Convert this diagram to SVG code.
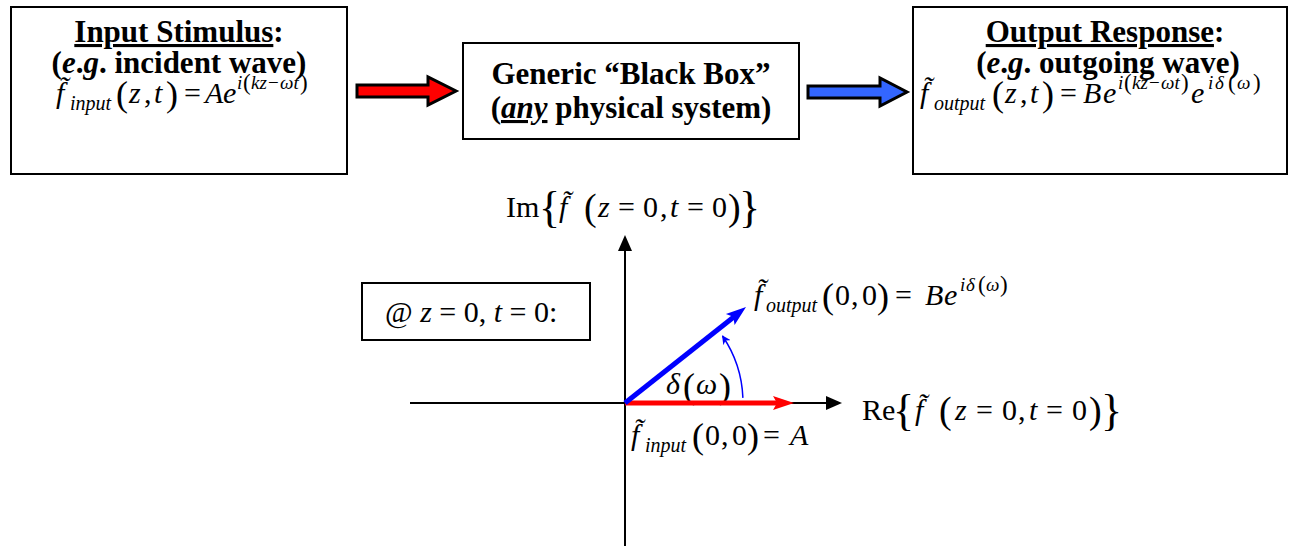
<svg xmlns="http://www.w3.org/2000/svg" width="1298" height="546" viewBox="0 0 1298 546">
<defs>
<marker id="arcHead" viewBox="0 0 10 10" refX="9" refY="5" markerWidth="9" markerHeight="9" markerUnits="userSpaceOnUse" orient="auto">
<path d="M0,0 L10,5 L0,10 L3,5 Z" fill="#0000FF"/>
</marker>
</defs>
<rect width="1298" height="546" fill="#fff"/>

<g id="input-box">
<rect x="11" y="7" width="336" height="167" fill="#fff" stroke="#000" stroke-width="2"/>
<text font-family="Liberation Serif" x="179" y="42" font-size="31" font-weight="bold" text-anchor="middle"><tspan text-decoration="underline">Input Stimulus</tspan>:</text>
<text font-family="Liberation Serif" x="179" y="73" font-size="31" font-weight="bold" text-anchor="middle">(<tspan font-style="italic">e</tspan>.<tspan font-style="italic">g</tspan>. incident wave)</text>
<text font-family="Liberation Serif" font-size="30"><tspan x="56" y="103" font-style="italic">f̃</tspan><tspan x="70" y="110" font-size="20" font-style="italic">input</tspan><tspan x="116" y="106" font-size="36">(</tspan><tspan x="129" y="103" font-style="italic">z</tspan><tspan x="144" y="103">,</tspan><tspan x="154" y="103" font-style="italic">t</tspan><tspan x="166" y="106" font-size="36">)</tspan><tspan x="184" y="103">=</tspan><tspan x="205" y="103" font-style="italic">A</tspan><tspan x="223" y="103" font-style="italic">e</tspan><tspan x="237" y="89" font-size="19" font-style="italic">i</tspan><tspan x="243" y="90" font-size="23">(</tspan><tspan x="251" y="89" font-size="19" font-style="italic">kz</tspan><tspan x="268" y="89" font-size="19">−</tspan><tspan x="280" y="89" font-size="19" font-style="italic">ωt</tspan><tspan x="300" y="90" font-size="23">)</tspan></text>
</g>

<g id="black-box">
<rect x="463" y="43" width="336" height="96" fill="#fff" stroke="#000" stroke-width="2"/>
<text font-family="Liberation Serif" x="631" y="84" font-size="31" font-weight="bold" text-anchor="middle">Generic “Black Box”</text>
<text font-family="Liberation Serif" x="631" y="118" font-size="31" font-weight="bold" text-anchor="middle">(<tspan font-style="italic" text-decoration="underline">any</tspan> physical system)</text>
</g>

<g id="output-box">
<rect x="913" y="7" width="374" height="167" fill="#fff" stroke="#000" stroke-width="2"/>
<text font-family="Liberation Serif" x="1105" y="42" font-size="31" font-weight="bold" text-anchor="middle"><tspan text-decoration="underline">Output Response</tspan>:</text>
<text font-family="Liberation Serif" x="1108" y="73" font-size="31" font-weight="bold" text-anchor="middle">(<tspan font-style="italic">e</tspan>.<tspan font-style="italic">g</tspan>. outgoing wave)</text>
<text font-family="Liberation Serif" font-size="30"><tspan x="920" y="103" font-style="italic">f̃</tspan><tspan x="934" y="110" font-size="20" font-style="italic">output</tspan><tspan x="992" y="106" font-size="36">(</tspan><tspan x="1005" y="103" font-style="italic">z</tspan><tspan x="1020" y="103">,</tspan><tspan x="1030" y="103" font-style="italic">t</tspan><tspan x="1042" y="106" font-size="36">)</tspan><tspan x="1060" y="103">=</tspan><tspan x="1083" y="103" font-style="italic">B</tspan><tspan x="1103" y="103" font-style="italic">e</tspan><tspan x="1118" y="89" font-size="19" font-style="italic">i</tspan><tspan x="1124" y="90" font-size="23">(</tspan><tspan x="1132" y="89" font-size="19" font-style="italic">kz</tspan><tspan x="1149" y="89" font-size="19">−</tspan><tspan x="1161" y="89" font-size="19" font-style="italic">ωt</tspan><tspan x="1181" y="90" font-size="23">)</tspan><tspan x="1191" y="103" font-style="italic">e</tspan><tspan x="1208" y="89" font-size="19" font-style="italic">i</tspan><tspan x="1215" y="89" font-size="19" font-style="italic">δ</tspan><tspan x="1228" y="90" font-size="23">(</tspan><tspan x="1237" y="89" font-size="19" font-style="italic">ω</tspan><tspan x="1253" y="90" font-size="23">)</tspan></text>
</g>

<g id="condition-box">
<rect x="362" y="283" width="228" height="57" fill="#fff" stroke="#000" stroke-width="2"/>
<text font-family="Liberation Serif" x="385" y="322" font-size="30">@ <tspan font-style="italic">z</tspan> = 0, <tspan font-style="italic">t</tspan> = 0:</text>
</g>

<g id="im-label">
<text font-family="Liberation Serif" font-size="30"><tspan x="506" y="217">Im</tspan><tspan x="539" y="222" font-size="44">{</tspan><tspan x="559" y="217" font-style="italic">f̃</tspan><tspan x="584" y="220" font-size="38">(</tspan><tspan x="598" y="217" font-style="italic">z</tspan><tspan x="618" y="217">=</tspan><tspan x="643" y="217">0</tspan><tspan x="660" y="217">,</tspan><tspan x="670" y="217" font-style="italic">t</tspan><tspan x="687" y="217">=</tspan><tspan x="712" y="217">0</tspan><tspan x="728" y="220" font-size="38">)</tspan><tspan x="739" y="222" font-size="44">}</tspan></text>
</g>

<g id="re-label">
<text font-family="Liberation Serif" font-size="30"><tspan x="862" y="420">Re</tspan><tspan x="893" y="425" font-size="44">{</tspan><tspan x="915" y="420" font-style="italic">f̃</tspan><tspan x="939" y="423" font-size="38">(</tspan><tspan x="955" y="420" font-style="italic">z</tspan><tspan x="976" y="420">=</tspan><tspan x="1002" y="420">0</tspan><tspan x="1018" y="420">,</tspan><tspan x="1029" y="420" font-style="italic">t</tspan><tspan x="1046" y="420">=</tspan><tspan x="1072" y="420">0</tspan><tspan x="1089" y="423" font-size="38">)</tspan><tspan x="1101" y="425" font-size="44">}</tspan></text>
</g>

<g id="output-label">
<text font-family="Liberation Serif" font-size="30"><tspan x="754" y="305" font-style="italic">f̃</tspan><tspan x="766" y="312" font-size="20" font-style="italic">output</tspan><tspan x="822" y="308" font-size="36">(</tspan><tspan x="835" y="305">0</tspan><tspan x="851" y="305">,</tspan><tspan x="862" y="305">0</tspan><tspan x="877" y="308" font-size="36">)</tspan><tspan x="895" y="305">=</tspan><tspan x="925" y="305" font-style="italic">B</tspan><tspan x="944" y="305" font-style="italic">e</tspan><tspan x="960" y="291" font-size="19" font-style="italic">i</tspan><tspan x="966" y="291" font-size="19" font-style="italic">δ</tspan><tspan x="978" y="292" font-size="23">(</tspan><tspan x="986" y="291" font-size="19" font-style="italic">ω</tspan><tspan x="1000" y="292" font-size="23">)</tspan></text>
</g>

<g id="input-label">
<text font-family="Liberation Serif" font-size="30"><tspan x="631" y="445" font-style="italic">f̃</tspan><tspan x="645" y="452" font-size="20" font-style="italic">input</tspan><tspan x="692" y="448" font-size="36">(</tspan><tspan x="705" y="445">0</tspan><tspan x="721" y="445">,</tspan><tspan x="732" y="445">0</tspan><tspan x="747" y="448" font-size="36">)</tspan><tspan x="763" y="445">=</tspan><tspan x="790" y="445" font-style="italic">A</tspan></text>
</g>

<g id="delta-label">
<text font-family="Liberation Serif" font-size="30"><tspan x="666" y="394" font-style="italic">δ</tspan><tspan x="683" y="398" font-size="36">(</tspan><tspan x="696" y="394" font-style="italic">ω</tspan><tspan x="719" y="398" font-size="36">)</tspan></text>
</g>

<g id="connectors">
<path d="M357,85 H428 V77 L456,91 L428,105 V97 H357 Z" fill="#FF0000" stroke="#000" stroke-width="3"/>
<path d="M808,86 H880 V78 L907,92 L880,106 V98 H808 Z" fill="#3366FF" stroke="#000" stroke-width="3"/>
<line x1="625" y1="250" x2="625" y2="546" stroke="#000" stroke-width="2"/>
<polygon points="618,251 625,235 632,251" fill="#000"/>
<line x1="410" y1="403" x2="827" y2="403" stroke="#000" stroke-width="2"/>
<polygon points="826,396 842,403 826,410" fill="#000"/>
<line x1="625" y1="403" x2="780" y2="403" stroke="#FF0000" stroke-width="5"/>
<polygon points="773,396 794,403 773,410 777,403" fill="#FF0000"/>
<line x1="625" y1="403" x2="735" y2="316" stroke="#0000FF" stroke-width="5"/>
<polygon points="746,307 734.6,324.9 733.3,316.8 725.9,313.9" fill="#0000FF"/>
<path d="M742.9,397.9 A118,118 0 0,0 722.5,336" fill="none" stroke="#0000FF" stroke-width="1.5" marker-end="url(#arcHead)"/>
</g>
</svg>
